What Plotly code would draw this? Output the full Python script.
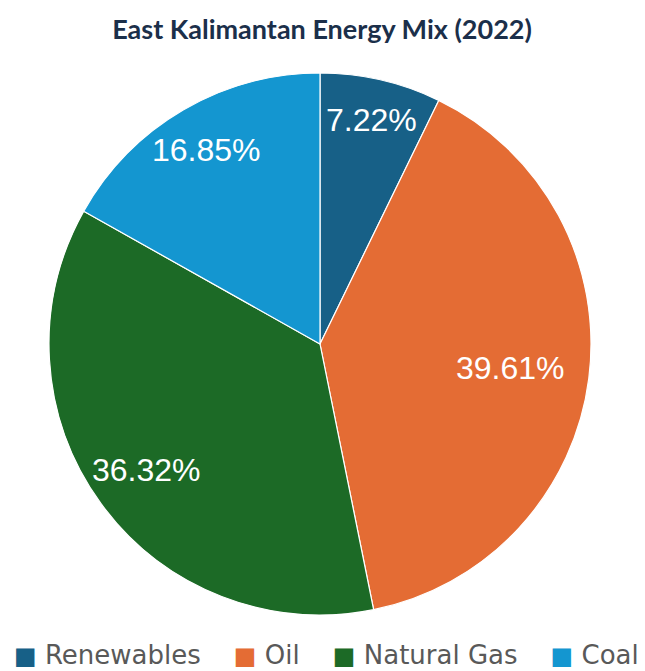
import math
import plotly.graph_objects as go

categories = ["Renewables", "Oil", "Natural Gas", "Coal"]
shares = [7.22, 39.61, 36.32, 16.85]
colors = ["#176087", "#E46C34", "#1C6A26", "#1496D0"]

W, H = 645, 671
OFF = 8  # page body margin
cx, cy, R = 320 - OFF, 344 - OFF, 271
label_r = [0.85, 0.71, 0.79, 0.83]

fig = go.Figure(go.Pie(
    labels=categories,
    values=shares,
    sort=False,
    direction="clockwise",
    rotation=0,
    marker=dict(colors=colors, line=dict(color="white", width=1.2)),
    textinfo="none",
    hoverinfo="label+percent",
    showlegend=False,
    domain=dict(x=[(cx - R) / W, (cx + R) / W], y=[1 - (cy + R) / H, 1 - (cy - R) / H]),
))

total = sum(shares)
cum = 0
for i, v in enumerate(shares):
    mid = (cum + v / 2) / total * 2 * math.pi
    cum += v
    px = cx + label_r[i] * R * math.sin(mid)
    py = cy - label_r[i] * R * math.cos(mid)
    fig.add_annotation(
        x=px / W, y=1 - py / H, xref="paper", yref="paper",
        text=f"{v:.2f}%", showarrow=False,
        font=dict(family="Liberation Sans, Arial", size=32, color="white"),
        xanchor="center", yanchor="middle",
    )

# legend row
items = [f"<span style='color:{c};font-size:24px'>■</span>&nbsp;{n}" for n, c in zip(categories, colors)]
fig.add_annotation(
    x=(326 - OFF) / W, y=1 - (655 - OFF) / H, xref="paper", yref="paper",
    text=("&nbsp;" * 4).join(items), showarrow=False,
    font=dict(family="DejaVu Sans", size=26, color="#595959"),
    xanchor="center", yanchor="middle", borderpad=0,
)

fig.update_layout(
    width=W, height=H,
    margin=dict(l=0, r=0, t=0, b=0),
    paper_bgcolor="white", plot_bgcolor="white",
    title=dict(text="<b>East Kalimantan Energy Mix (2022)</b>", x=(322 - OFF) / W, xanchor="center",
               y=1 - (30 - OFF) / H, yanchor="middle", yref="container", xref="container",
               font=dict(family="Lato", size=27, color="#1B2F4A")),
)

fig.write_html("out.html")
